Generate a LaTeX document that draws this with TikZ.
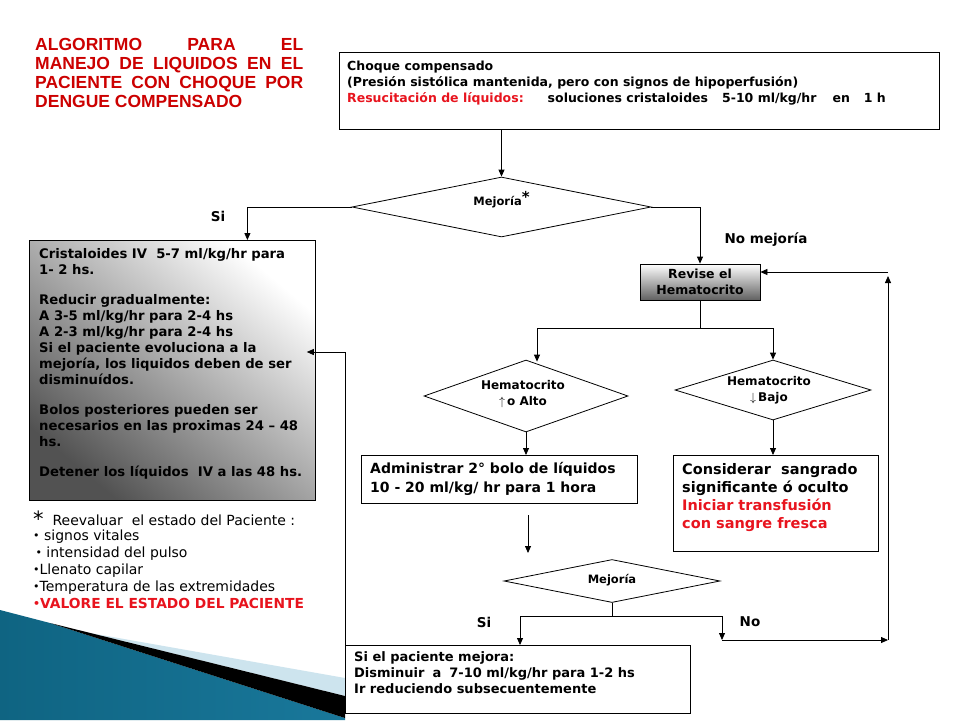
\documentclass[tikz,border=0pt]{standalone}
\usepackage{fontspec}
\setmainfont{DejaVu Sans}
\newfontfamily\titlefont{Liberation Sans}
\usetikzlibrary{shapes.geometric,arrows.meta,calc}
\definecolor{titlered}{RGB}{204,0,0}
\definecolor{brred}{RGB}{232,20,30}
\definecolor{tealdark}{RGB}{15,100,130}
\definecolor{teallight}{RGB}{80,180,215}
\definecolor{tealmid}{RGB}{25,120,155}
\definecolor{paleblue}{RGB}{205,228,238}
\newcommand\bul{\raisebox{0.1em}{\fontsize{11}{11}\selectfont •}}
\begin{document}
\begin{tikzpicture}[x=1pt,y=-1pt,
  box/.style={draw,line width=0.8pt,inner sep=0pt,anchor=north west},
  txt/.style={inner sep=0pt,anchor=north west,align=left,font=\bfseries\fontsize{12.5}{16}\selectfont},
  dia/.style={draw,diamond,line width=0.8pt,inner sep=0pt},
  diatxt/.style={inner sep=0pt,align=center,font=\bfseries\fontsize{12}{16}\selectfont},
  lbl/.style={inner sep=0pt,font=\bfseries\fontsize{13.5}{16}\selectfont},
  arr/.style={line width=0.8pt,-{Triangle[length=7pt,width=6pt]}},
  ln/.style={line width=0.8pt}]
\useasboundingbox (0,0) rectangle (960,720);
\fill[white] (0,0) rectangle (960,720);
% decoration
\shade[left color=tealdark,middle color=teallight,right color=tealmid] (0,610) -- (50,623) -- (345,718) -- (345,720) -- (0,720) -- cycle;
\fill[paleblue] (90,633) -- (345,678) -- (345,696) -- cycle;
\fill[black] (50,623) -- (345,696) -- (345,718) -- cycle;
% title
\node[inner sep=0pt,anchor=north west,align=left,text=titlered,font=\titlefont\bfseries\fontsize{17.5}{19}\selectfont] (title) at (35,38)
{\makebox[268pt][s]{ALGORITMO PARA EL}\\
 \makebox[268pt][s]{MANEJO DE LIQUIDOS EN EL}\\
 \makebox[268pt][s]{PACIENTE CON CHOQUE POR}\\
 DENGUE COMPENSADO};
% top box
\node[box,minimum width=600pt,minimum height=77pt] (top) at (339,52) {};
\node[txt] (toptxt) at (347,61) {Choque compensado\\
(Presión sistólica mantenida, pero con signos de hipoperfusión)\\
{\color{brred}Resucitación de líquidos:}\hspace{24pt}soluciones cristaloides\hspace{14pt}5-10 ml/kg/hr\hspace{16pt}en\hspace{14pt}1 h};
% diamond 1
\node[dia,minimum width=299pt,minimum height=60pt] (d1) at (501.5,207) {};
\node[inner sep=0pt,font=\bfseries\fontsize{11.5}{14}\selectfont] (d1t) at ([yshift=7pt]d1.center) {Mejoría\raisebox{3pt}{\fontsize{15}{15}\selectfont *}};
% left box
\node[box,minimum width=286pt,minimum height=260pt,top color=white,bottom color=black!68,shading angle=-40] (leftbox) at (29,240) {};
\node[txt,font=\bfseries\fontsize{13.2}{16}\selectfont] (lefttxt) at (39,248) {Cristaloides IV~ 5-7 ml/kg/hr para\\
1- 2 hs.\\[14pt]
Reducir gradualmente:\\
A 3-5 ml/kg/hr para 2-4 hs\\
A 2-3 ml/kg/hr para 2-4 hs\\
Si el paciente evoluciona a la\\
mejoría, los liquidos deben de ser\\
disminuídos.\\[14pt]
Bolos posteriores pueden ser\\
necesarios en las proximas 24 – 48\\
hs.\\[14pt]
Detener los líquidos~ IV a las 48 hs.};
% labels
\node[lbl] (si1) at (218,216) {Si};
\node[lbl] (nomej) at (766,240) {No mejoría};
% revise
\node[box,anchor=center,minimum width=120pt,minimum height=36pt,align=center,top color=white,bottom color=black!62,font=\bfseries\fontsize{12.5}{16}\selectfont] (revise) at (700,282) {Revise el\\Hematocrito};
% diamonds 2,3
\node[dia,minimum width=204pt,minimum height=72pt] (d2) at (526,396) {};
\node[diatxt] (d2t) at ([xshift=-3pt,yshift=2pt]d2.center) {Hematocrito\\$\uparrow$\,o Alto};
\node[dia,minimum width=196pt,minimum height=60pt] (d3) at (773,390) {};
\node[diatxt] (d3t) at ([xshift=-4pt]d3.center) {Hematocrito\\$\downarrow$\,Bajo};
% admin box
\node[box,minimum width=276pt,minimum height=48pt] (admin) at (361,455) {};
\node[txt,font=\bfseries\fontsize{14}{19}\selectfont] (admintxt) at (370,462) {Administrar 2\textdegree\ bolo de líquidos\\10 - 20 ml/kg/ hr para 1 hora};
% considerar box
\node[box,minimum width=205pt,minimum height=96pt] (cons) at (673,455) {};
\node[txt,font=\bfseries\fontsize{14.5}{18}\selectfont] (constxt) at (682,463) {Considerar~ sangrado\\significante ó oculto\\{\color{brred}Iniciar transfusión}\\{\color{brred}con sangre fresca}};
% diamond 4
\coordinate (a1) at (528,515);
\coordinate (a2) at (528,553);
\node[dia,minimum width=216pt,minimum height=43pt] (d4) at (612,581) {};
\node[inner sep=0pt,font=\bfseries\fontsize{11.5}{14}\selectfont] (d4t) at ([yshift=1pt]d4.center) {Mejoría};
\node[lbl] (si2) at (484,622) {Si};
\node[lbl] (no2) at (750,622) {No};
% bottom box
\node[box,fill=white,minimum width=345pt,minimum height=68pt] (bottom) at (345,645) {};
\node[txt,font=\bfseries\fontsize{13}{16}\selectfont] (bottomtxt) at (354,651) {Si el paciente mejora:\\Disminuir\hspace{8pt}a\hspace{8pt}7-10 ml/kg/hr para 1-2 hs\\Ir reduciendo subsecuentemente};
% reevaluar
\node[inner sep=0pt,anchor=base west,font=\fontsize{14}{17}\selectfont] (reev) at (33,525) {\raisebox{-1pt}{\fontsize{21}{21}\selectfont *}~ Reevaluar~ el estado del Paciente :};
\node[inner sep=0pt,anchor=north west,align=left,font=\fontsize{14}{17}\selectfont] (list) at (33,530) {\bul\ signos vitales\\
\,\bul\ intensidad del pulso\\
\bul Llenato capilar\\
\bul Temperatura de las extremidades\\
{\color{brred}\bfseries\fontsize{13.8}{17}\selectfont\bul VALORE EL ESTADO DEL PACIENTE}};
% connectors
\draw[arr] (d1.north |- top.south) -- (d1.north);
\draw[arr] (d1.west) -| ([xshift=75pt]leftbox.north);
\draw[arr] (d1.east) -| (revise.north);
\coordinate (sl) at (537,328);
\coordinate (sr) at (d3.north |- sl);
\draw[ln] (revise.south) -- (revise.south |- sl);
\draw[ln] (sl) -- (sr);
\draw[arr] (sl) -- ([yshift=-2pt]sl |- d2.north);
\draw[arr] (sr) -- (d3.north);
\draw[arr] (d2.south) -- (d2.south |- admin.north);
\draw[arr] (d3.south) -- (d3.south |- cons.north);
\draw[arr] (a1) -- (a2);
\coordinate (bsplit) at ($(d4.south)+(0,13.5)$);
\coordinate (bl) at (520,616);
\coordinate (br) at (722,616);
\coordinate (brd) at (722,640);
\coordinate (rc) at (888,640);
\coordinate (rt) at (888,272);
\draw[ln] (d4.south) -- (bsplit);
\draw[ln] (bl) -- (br);
\draw[arr] (bl) -- (bl |- bottom.north);
\draw[arr] (br) -- (brd);
\draw[arr] (brd) -- (rc);
\draw[arr] (rc) -- ([yshift=-4pt]rt);
\draw[arr] (rt) -- (rt -| revise.east);
\coordinate (lb) at (345,352);
\draw[arr] (bottom.north west) -- (lb) -- ([xshift=-9pt]lb -| leftbox.east);
\end{tikzpicture}
\end{document}
